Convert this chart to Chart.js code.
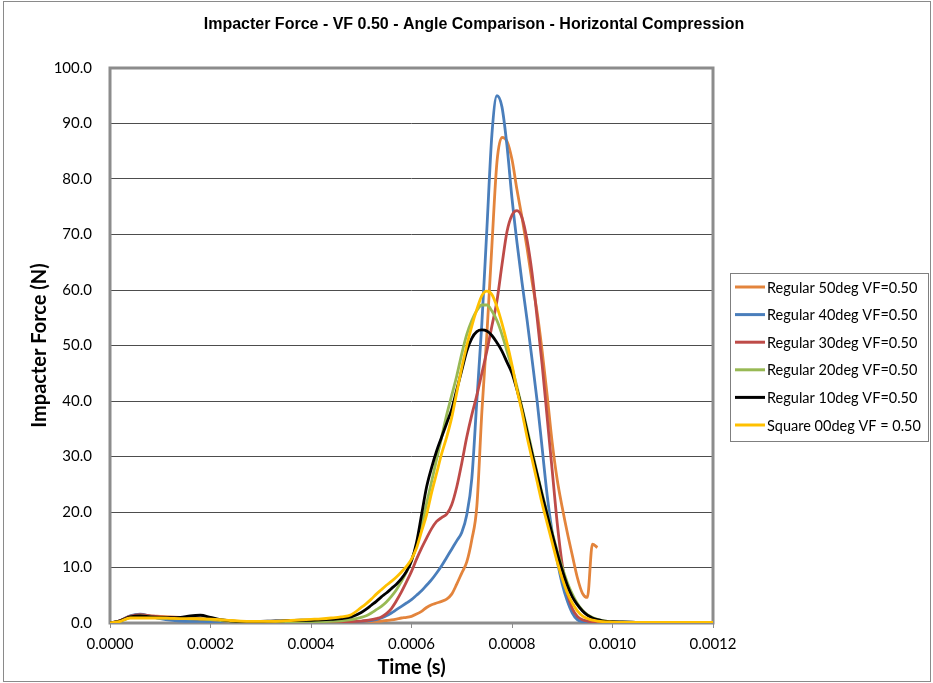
<!DOCTYPE html>
<html>
<head>
<meta charset="utf-8">
<title>Impacter Force - VF 0.50 - Angle Comparison - Horizontal Compression</title>
<script src="https://cdn.jsdelivr.net/npm/chart.js@4.4.1/dist/chart.umd.min.js"></script>
<style>
    html, body { margin: 0; padding: 0; background: #fff; }
    #wrap { position: relative; width: 933px; height: 683px; }
</style>
</head>
<body>
<div id="wrap"><canvas id="forceChart" width="933" height="683"></canvas></div>
<script>
// time in seconds (finer steps around the impact peak)
const time = [
    0, 0.00002, 0.00004, 0.00006, 0.00008, 0.0001, 0.00012, 0.00014, 0.00016, 0.00018,
    0.0002, 0.00022, 0.00024, 0.00026, 0.00028, 0.0003, 0.00032, 0.00034, 0.00036, 0.00038,
    0.0004, 0.00042, 0.00044, 0.00046, 0.00048, 0.0005,
    0.00051, 0.00052, 0.00053, 0.00054, 0.00055, 0.00056, 0.00057, 0.00058, 0.00059, 0.0006,
    0.00061, 0.00062, 0.00063, 0.00064, 0.00065, 0.00066, 0.00067, 0.00068, 0.00069, 0.0007,
    0.00071, 0.00072, 0.00073, 0.00074, 0.00075, 0.00076, 0.00077, 0.00078, 0.00079, 0.0008,
    0.00081, 0.00082, 0.00083, 0.00084, 0.00085, 0.00086, 0.00087, 0.00088, 0.00089, 0.0009,
    0.00091, 0.00092, 0.00093, 0.00094, 0.00095, 0.00096, 0.00097, 0.00098, 0.00099, 0.001,
    0.00102, 0.00104, 0.00106, 0.00108, 0.0011, 0.00112, 0.00114, 0.00116, 0.00118, 0.0012
];

const reg50 = [
    0, 0.4, 1.2, 1.5, 1.3, 1.2, 1.1, 1.0, 0.9, 0.8, 0.6, 0.4, 0.25, 0.15, 0.1, 0.1, 0.1, 0.1, 0.1, 0.1, 0.1, 0.1, 0.1, 0.1, 0.1, 0.15,
    0.2, 0.25, 0.3, 0.35, 0.45, 0.55, 0.7, 0.9, 1.0, 1.2,
    1.6, 2.1, 2.8, 3.3, 3.6, 3.9, 4.3, 5.2, 7.0, 9.0,
    11.0, 15.0, 21.0, 38.0, 52.0, 68.0, 83.0, 87.5, 86.8, 83.5,
    78.0, 73.0, 67.5, 61.5, 56.0, 49.0, 41.0, 32.5, 25.8, 20.8,
    16.3, 12.2, 8.2, 5.4, 4.6, 14.2, 13.6, null, null, null,
    null, null, null, null, null, null, null, null, null, null
];
const reg40 = [
    0, 0.4, 1.3, 1.6, 1.2, 0.8, 0.5, 0.35, 0.3, 0.3, 0.25, 0.2, 0.2, 0.2, 0.2, 0.2, 0.2, 0.2, 0.2, 0.2, 0.2, 0.2, 0.2, 0.2, 0.2, 0.3,
    0.35, 0.45, 0.6, 0.9, 1.3, 1.8, 2.4, 3.0, 3.6, 4.2,
    5.0, 5.8, 6.8, 7.8, 9.0, 10.3, 11.8, 13.3, 14.8, 16.3,
    19.5, 26.0, 40.0, 54.0, 71.0, 88.0, 95.0, 93.0, 86.0, 76.5,
    68.5, 61.3, 54.6, 47.4, 40.0, 31.5, 23.0, 16.3, 11.2, 7.0,
    4.0, 1.8, 0.6, 0.25, 0.15, 0.1, 0.1, 0.1, 0.1, 0.1,
    0.1, 0.1, 0.1, 0.1, 0.1, 0.1, 0.1, 0.1, 0.1, 0.1
];
const reg30 = [
    0, 0.4, 1.2, 1.5, 1.3, 1.1, 1.0, 0.9, 0.8, 0.7, 0.6, 0.45, 0.3, 0.2, 0.2, 0.2, 0.2, 0.2, 0.2, 0.2, 0.2, 0.2, 0.2, 0.2, 0.25, 0.35,
    0.45, 0.6, 0.8, 1.1, 1.7, 2.6, 4.0, 5.6, 7.4, 9.3,
    11.5, 13.5, 15.3, 17.0, 18.3, 19.0, 19.6, 21.3, 24.5, 28.8,
    33.5, 37.5, 41.0, 45.0, 49.0, 53.5, 58.0, 64.5, 70.5, 73.5,
    74.3, 73.0, 69.0, 63.0, 55.0, 46.5, 37.0, 27.5, 18.0, 10.5,
    5.4, 2.6, 1.2, 0.6, 0.35, 0.25, 0.2, 0.15, 0.1, 0.1,
    0.1, 0.1, 0.1, 0.1, 0.1, 0.1, 0.1, 0.1, 0.1, 0.1
];
const reg20 = [
    0, 0.3, 1.0, 1.3, 1.1, 0.9, 0.85, 0.8, 0.75, 0.7, 0.6, 0.45, 0.3, 0.25, 0.2, 0.2, 0.2, 0.2, 0.2, 0.2, 0.2, 0.25, 0.3, 0.4, 0.6, 1.0,
    1.3, 1.8, 2.4, 3.0, 3.8, 4.8, 6.0, 7.5, 9.2, 11.3,
    14.0, 17.5, 21.5, 25.5, 29.5, 33.5, 37.5, 41.0, 44.5, 48.5,
    52.0, 54.5, 56.3, 57.3, 57.3, 56.2, 54.5, 52.0, 49.0, 46.0,
    42.5, 38.8, 35.0, 31.0, 27.0, 23.3, 19.8, 16.3, 13.0, 10.0,
    7.3, 5.2, 3.5, 2.3, 1.5, 1.0, 0.65, 0.45, 0.3, 0.2,
    0.15, 0.12, 0.1, 0.1, 0.1, 0.1, 0.1, 0.1, 0.1, 0.1
];
const reg10 = [
    0, 0.4, 1.1, 1.3, 1.1, 1.0, 0.95, 1.0, 1.3, 1.4, 1.0, 0.6, 0.4, 0.3, 0.3, 0.3, 0.35, 0.4, 0.45, 0.5, 0.5, 0.55, 0.65, 0.8, 1.1, 1.9,
    2.5, 3.2, 3.9, 4.7, 5.4, 6.2, 7.0, 8.0, 9.3, 11.2,
    14.5, 19.5, 24.5, 28.0, 31.0, 33.5, 36.0, 38.5, 42.0, 45.5,
    49.0, 51.3, 52.5, 52.8, 52.6, 51.8, 50.5, 49.0, 47.0, 45.0,
    42.0, 38.5, 34.5, 30.5, 26.8, 23.0, 19.5, 16.0, 12.6, 9.5,
    6.8, 4.7, 3.3, 2.2, 1.4, 0.9, 0.6, 0.4, 0.3, 0.25,
    0.2, 0.15, 0.1, 0.1, 0.1, 0.1, 0.1, 0.1, 0.1, 0.1
];
const sq00 = [
    0, 0.3, 0.9, 0.9, 0.9, 0.9, 0.85, 0.8, 0.8, 0.75, 0.7, 0.6, 0.45, 0.35, 0.3, 0.3, 0.3, 0.35, 0.45, 0.55, 0.65, 0.75, 0.9, 1.1, 1.5, 2.8,
    3.5, 4.3, 5.2, 6.0, 6.8, 7.5, 8.3, 9.2, 10.2, 11.5,
    13.5, 16.5, 19.5, 23.5, 27.0, 30.5, 33.5, 37.0, 41.5, 46.0,
    50.0, 53.5, 56.5, 59.0, 59.8, 59.2, 57.0, 54.0, 50.5, 46.5,
    42.0, 38.0, 33.5, 29.5, 25.5, 21.5, 18.0, 14.5, 11.0, 8.0,
    5.5, 3.6, 2.2, 1.3, 0.8, 0.5, 0.35, 0.25, 0.2, 0.15,
    0.1, 0.1, 0.1, 0.1, 0.1, 0.1, 0.1, 0.1, 0.1, 0.1
];

const seriesNames = [
    'Regular 50deg VF=0.50',
    'Regular 40deg VF=0.50',
    'Regular 30deg VF=0.50',
    'Regular 20deg VF=0.50',
    'Regular 10deg VF=0.50',
    'Square 00deg VF = 0.50'
];
const seriesColors = ['#E3843C', '#4A7EBB', '#BE4B48', '#98B954', '#000000', '#FFC000'];
const seriesValues = [reg50, reg40, reg30, reg20, reg10, sq00];

const xTicks = [0, 0.0002, 0.0004, 0.0006, 0.0008, 0.001, 0.0012];
const yTicks = [0, 10, 20, 30, 40, 50, 60, 70, 80, 90, 100];

const chartTitle = 'Impacter Force - VF 0.50 - Angle Comparison - Horizontal Compression';

const framePlugin = {
    id: 'frame',
    beforeDraw(chart) {
        const ctx = chart.ctx;
        ctx.save();
        ctx.fillStyle = '#ffffff';
        ctx.fillRect(0, 0, chart.width, chart.height);
        ctx.strokeStyle = '#8a8a8a';
        ctx.lineWidth = 1;
        ctx.strokeRect(3.5, 1.5, chart.width - 6, chart.height - 3);
        ctx.restore();
    },
    beforeDatasetsDraw(chart) {
        const a = chart.chartArea;
        const ctx = chart.ctx;
        ctx.save();
        ctx.strokeStyle = '#8c8c8c';
        ctx.lineWidth = 3;
        ctx.strokeRect(a.left, a.top, a.right - a.left, a.bottom - a.top);
        ctx.restore();
    },
    afterDraw(chart) {
        // boxed legend to the right of the plot
        const a = chart.chartArea;
        const ctx = chart.ctx;
        const x0 = a.right + 17;
        const y0 = 273;
        ctx.save();
        ctx.strokeStyle = '#7f7f7f';
        ctx.lineWidth = 1;
        ctx.strokeRect(x0 + 0.5, y0 + 0.5, 198, 168);
        ctx.font = '14.5px Lato';
        ctx.textBaseline = 'middle';
        ctx.fillStyle = '#000';
        chart.data.datasets.forEach(function (ds, i) {
            const y = y0 + 14 + i * 27.6;
            ctx.strokeStyle = ds.borderColor;
            ctx.lineWidth = 3;
            ctx.beginPath();
            ctx.moveTo(x0 + 5, y);
            ctx.lineTo(x0 + 35, y);
            ctx.stroke();
            ctx.fillText(ds.label, x0 + 37, y + 1);
        });
        ctx.restore();
    }
};

const datasets = seriesNames.map(function (name, i) {
    return {
        label: name,
        data: time.map(function (t, k) { return { x: t, y: seriesValues[i][k] }; }),
        borderColor: seriesColors[i],
        backgroundColor: seriesColors[i],
        borderWidth: 2.8,
        pointRadius: 0,
        pointHoverRadius: 0,
        cubicInterpolationMode: 'monotone',
        spanGaps: false,
        order: seriesNames.length - i,
    };
});

new Chart(document.getElementById('forceChart'), {
    type: 'line',
    data: { datasets: datasets },
    plugins: [framePlugin],
    options: {
        responsive: false,
        animation: false,
        layout: { padding: { left: 15, top: 0, right: 0, bottom: 0 } },
        plugins: {
            legend: { display: false },
            tooltip: { enabled: false },
            title: {
                display: true,
                text: chartTitle,
                color: '#000',
                font: { family: 'Liberation Sans', size: 16, weight: 'bold', lineHeight: 1.2 },
                padding: { top: 15, bottom: 33.8 },
            },
        },
        scales: {
            x: {
                type: 'linear',
                min: 0,
                max: 0.0012,
                afterFit: function (s) { s.height = 60; },
                afterBuildTicks: function (s) { s.ticks = xTicks.map(function (v) { return { value: v }; }); },
                grid: { display: true, drawOnChartArea: false, drawTicks: true, tickLength: 5, color: '#8c8c8c' },
                border: { display: false },
                ticks: {
                    color: '#000',
                    font: { family: 'Lato', size: 15 },
                    padding: 7,
                    maxRotation: 0,
                    autoSkip: false,
                    callback: function (v) { return Number(v).toFixed(4); },
                },
                title: {
                    display: true,
                    text: 'Time (s)',
                    color: '#000',
                    font: { family: 'Lato', size: 20, weight: 'bold', lineHeight: 1.2 },
                    padding: { top: 0, bottom: 3 },
                },
            },
            y: {
                type: 'linear',
                min: 0,
                max: 100,
                afterFit: function (s) { s.width = 95; },
                afterBuildTicks: function (s) { s.ticks = yTicks.map(function (v) { return { value: v }; }); },
                grid: { display: true, drawTicks: false, color: '#4d4d4d', lineWidth: 1 },
                border: { display: false },
                ticks: {
                    color: '#000',
                    font: { family: 'Lato', size: 15 },
                    padding: 18,
                    autoSkip: false,
                    callback: function (v) { return Number(v).toFixed(1); },
                },
                title: {
                    display: true,
                    text: 'Impacter Force (N)',
                    color: '#000',
                    font: { family: 'Lato', size: 20, weight: 'bold', lineHeight: 1.2 },
                    padding: { top: 13, bottom: 0 },
                },
            },
            legendSpace: {
                type: 'linear',
                position: 'right',
                min: 0,
                max: 1,
                afterFit: function (s) { s.width = 220; },
                grid: { display: false },
                border: { display: false },
                ticks: { display: false },
            },
        },
    },
});
</script>
</body>
</html>
